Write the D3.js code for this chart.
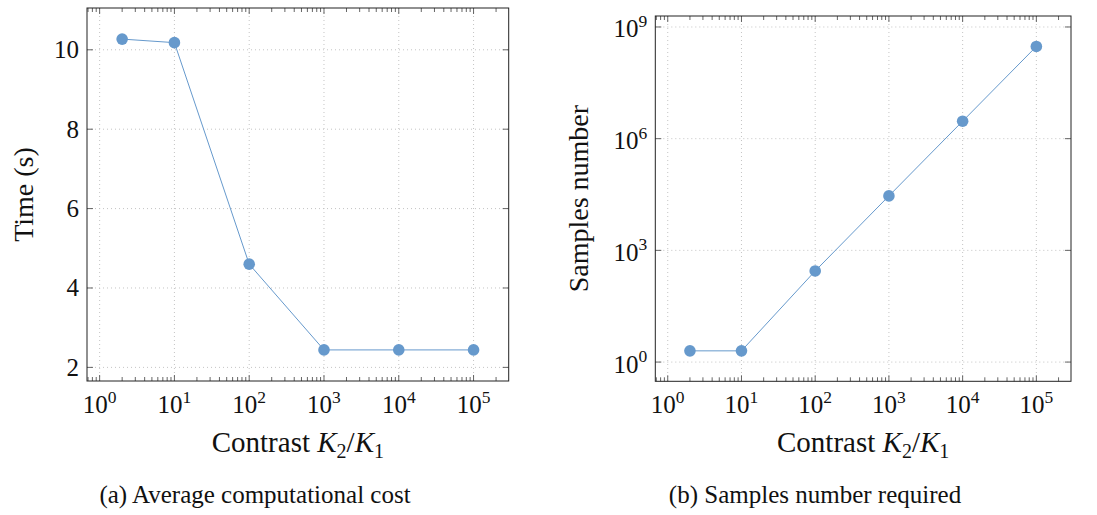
<!DOCTYPE html>
<html>
<head>
<meta charset="utf-8">
<script src="https://cdn.jsdelivr.net/npm/d3@7"></script>
<style>
  body { margin: 0; background: #fff; }
  svg text { font-family: "Liberation Serif", "DejaVu Serif", serif; fill: #111; }
</style>
</head>
<body>
<svg id="fig" width="1097" height="515"></svg>
<script>
// contrast values K2/K1 (shared x for both panels)
const contrast = [2, 10, 100, 1000, 10000, 100000];
// (a) average computational cost, seconds
const timeSec = [10.27, 10.18, 4.60, 2.44, 2.44, 2.44];
// (b) samples number required
const samples = [2, 2, 280, 29000, 2.95e6, 3.0e8];

const xTickExp = [0, 1, 2, 3, 4, 5];
const timeTicks = [2, 4, 6, 8, 10];
const sampleTickExp = [0, 3, 6, 9];

const blue = "#6699cc";
const svg = d3.select("#fig");

// pgfplots-like "enlarge limits" by 10% of range
function enlargeLin(ext) { const d = (ext[1] - ext[0]) * 0.1; return [ext[0] - d, ext[1] + d]; }
function enlargeLog(ext) {
  const a = Math.log10(ext[0]), b = Math.log10(ext[1]), d = (b - a) * 0.1;
  return [Math.pow(10, a - d), Math.pow(10, b + d)];
}

function powLabel(sel, exp, size) {
  sel.append("tspan").text("10");
  sel.append("tspan").attr("font-size", size * 0.7).attr("dy", -size * 0.42).text(exp);
}

function drawPanel(p) {
  const g = svg.append("g");
  const x = d3.scaleLog().domain(enlargeLog(d3.extent(contrast))).range([p.left, p.right]);
  const y = (p.logY ? d3.scaleLog().domain(enlargeLog(d3.extent(p.values)))
                    : d3.scaleLinear().domain(enlargeLin(d3.extent(p.values))))
            .range([p.bottom, p.top]);

  const xMajor = xTickExp.map(e => Math.pow(10, e));
  const xDom = x.domain();
  const xMinor = [];
  for (let e = -1; e <= 6; e++) for (let k = 2; k <= 9; k++) {
    const v = k * Math.pow(10, e);
    if (v > xDom[0] && v < xDom[1]) xMinor.push(v);
  }
  const yMajor = p.logY ? p.yTicks.map(e => Math.pow(10, e)) : p.yTicks;

  // grid
  g.selectAll(".gx").data(xMajor).join("line")
    .attr("x1", d => x(d)).attr("x2", d => x(d)).attr("y1", p.top).attr("y2", p.bottom)
    .attr("stroke", "#bdbdbd").attr("stroke-width", 0.9).attr("stroke-dasharray", "1,3");
  g.selectAll(".gy").data(yMajor).join("line")
    .attr("y1", d => y(d)).attr("y2", d => y(d)).attr("x1", p.left).attr("x2", p.right)
    .attr("stroke", "#bdbdbd").attr("stroke-width", 0.9).attr("stroke-dasharray", "1,3");

  // ticks (inside, on all sides)
  const tk = g.append("g").attr("stroke", "#555").attr("stroke-width", 0.9);
  xMajor.forEach(v => {
    tk.append("line").attr("x1", x(v)).attr("x2", x(v)).attr("y1", p.bottom).attr("y2", p.bottom - 6);
    tk.append("line").attr("x1", x(v)).attr("x2", x(v)).attr("y1", p.top).attr("y2", p.top + 6);
  });
  xMinor.forEach(v => {
    tk.append("line").attr("x1", x(v)).attr("x2", x(v)).attr("y1", p.bottom).attr("y2", p.bottom - 4);
    tk.append("line").attr("x1", x(v)).attr("x2", x(v)).attr("y1", p.top).attr("y2", p.top + 4);
  });
  yMajor.forEach(v => {
    tk.append("line").attr("y1", y(v)).attr("y2", y(v)).attr("x1", p.left).attr("x2", p.left + 6);
    tk.append("line").attr("y1", y(v)).attr("y2", y(v)).attr("x1", p.right).attr("x2", p.right - 6);
  });

  // frame
  g.append("rect").attr("x", p.left).attr("y", p.top)
    .attr("width", p.right - p.left).attr("height", p.bottom - p.top)
    .attr("fill", "none").attr("stroke", "#222").attr("stroke-width", 1);

  // data
  const pts = contrast.map((c, i) => [c, p.values[i]]);
  g.append("path").datum(pts)
    .attr("d", d3.line().x(d => x(d[0])).y(d => y(d[1])))
    .attr("fill", "none").attr("stroke", blue).attr("stroke-width", 1);
  g.selectAll(".pt").data(pts).join("circle")
    .attr("cx", d => x(d[0])).attr("cy", d => y(d[1])).attr("r", 5.8).attr("fill", blue);

  // x tick labels
  xTickExp.forEach(e => {
    const t = g.append("text").attr("x", x(Math.pow(10, e))).attr("y", p.bottom + 32)
      .attr("text-anchor", "middle").attr("font-size", 25);
    powLabel(t, e, 25);
  });
  // y tick labels
  p.yTicks.forEach(v => {
    const t = g.append("text").attr("x", p.left - 8)
      .attr("y", (p.logY ? y(Math.pow(10, v)) + 2 : y(v)) + 8.5)
      .attr("text-anchor", "end").attr("font-size", 25);
    if (p.logY) powLabel(t, v, 25); else t.text(v);
  });

  // x label
  const xl = g.append("text").attr("x", (p.left + p.right) / 2).attr("y", 451.5)
    .attr("text-anchor", "middle").attr("font-size", 29);
  xl.append("tspan").text("Contrast ");
  xl.append("tspan").attr("font-style", "italic").text("K");
  xl.append("tspan").attr("font-size", 20).attr("dy", 6).text("2");
  xl.append("tspan").attr("dy", -6).text("/");
  xl.append("tspan").attr("font-style", "italic").text("K");
  xl.append("tspan").attr("font-size", 20).attr("dy", 6).text("1");

  // y label
  g.append("text").attr("transform", `translate(${p.ylabX},${(p.top + p.bottom) / 2}) rotate(-90)`)
    .attr("text-anchor", "middle").attr("font-size", 28).attr("dy", 9).text(p.ylabel);

  // caption
  g.append("text").attr("x", p.capX).attr("y", 503).attr("text-anchor", "middle")
    .attr("font-size", 25).text(p.caption);
}

drawPanel({ left: 87, right: 508.7, top: 8, bottom: 381, values: timeSec, logY: false,
  yTicks: timeTicks, ylabel: "Time (s)", ylabX: 24, capX: 255,
  caption: "(a) Average computational cost" });
drawPanel({ left: 655.3, right: 1071, top: 16, bottom: 381.3, values: samples, logY: true,
  yTicks: sampleTickExp, ylabel: "Samples number", ylabX: 579, capX: 815,
  caption: "(b) Samples number required" });
</script>
</body>
</html>
